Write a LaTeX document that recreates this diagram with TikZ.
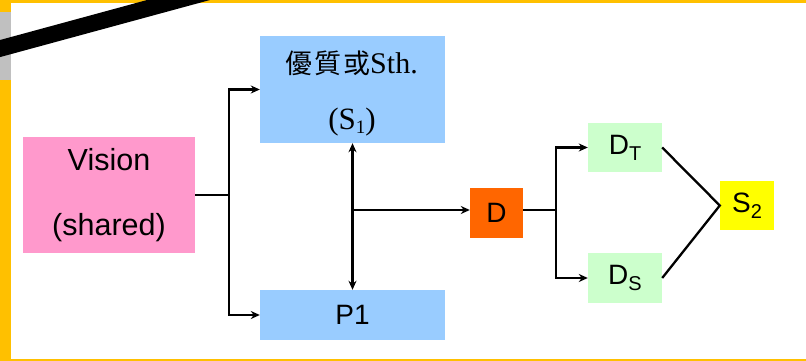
\documentclass[tikz,border=0pt]{standalone}
\usepackage{fontspec}
\setmainfont{Liberation Sans}
\newfontfamily\serifft{Liberation Serif}
\newfontfamily\cjk{Noto Sans CJK TC}
\usetikzlibrary{arrows.meta}
\definecolor{framey}{HTML}{FFC000}
\definecolor{framegray}{HTML}{C0C0C0}
\definecolor{pinkbox}{HTML}{FF99CC}
\definecolor{bluebox}{HTML}{99CCFF}
\definecolor{orangebox}{HTML}{FF6600}
\definecolor{greenbox}{HTML}{CCFFCC}
\definecolor{yellowbox}{HTML}{FFFF00}
\begin{document}
\begin{tikzpicture}[x=1pt,y=-1pt,
  box/.style={inner sep=0pt, minimum width=#1},
  lbl/.style={font=\fontsize{28}{30}\selectfont},
  conn/.style={line width=2.3pt, black},
  arr/.style={conn, -{Stealth[length=9pt,width=8pt]}},
  darr/.style={conn, {Stealth[length=9pt,width=8pt]}-{Stealth[length=9pt,width=8pt]}}]
\useasboundingbox (0,0) rectangle (806,361);
\clip (0,0) rectangle (806,361);
% frame
\fill[white] (0,0) rectangle (806,361);
\fill[framey] (0,0) rectangle (806,3);
\fill[framey] (0,0) rectangle (11,361);
\fill[framegray] (0,12) rectangle (11,80);
\fill[framey] (0,359.3) rectangle (806,361);
\draw[line width=16.5pt, black] (-20,54) -- (230,-14);
% boxes
\node[box=172pt, minimum height=116pt, fill=pinkbox, align=center,
      font=\fontsize{30.5}{65}\selectfont] (vision) at (109,195) {Vision\\(shared)};
\node[box=185pt, minimum height=107pt, fill=bluebox] (s1) at (352.5,89.5) {};
\node[font=\fontsize{30}{30}\selectfont] (s1a) at (351.5,63)
  {{\cjk\fontsize{27}{27}\selectfont 優\hspace{2pt}質\hspace{2pt}或}\serifft Sth.};
\node[font=\fontsize{31}{31}\selectfont\serifft] (s1b) at (352,122)
  {(S\raisebox{-4pt}{\fontsize{19}{19}\selectfont 1})};
\node[box=185pt, minimum height=50pt, fill=bluebox, lbl] (p1) at (352.5,315) {P1};
\node[box=53pt, minimum height=50pt, fill=orangebox, lbl] (d) at (496.5,213) {D};
\node[box=74pt, minimum height=49pt, fill=greenbox, lbl] (dt) at (625,147.5)
  {D\raisebox{-6pt}{\fontsize{20}{20}\selectfont T}};
\node[box=74pt, minimum height=50pt, fill=greenbox, lbl] (ds) at (625,278)
  {D\raisebox{-6pt}{\fontsize{20}{20}\selectfont S}};
\node[box=54pt, minimum height=49pt, fill=yellowbox, lbl] (s2) at (747,205.5)
  {S\raisebox{-6pt}{\fontsize{20}{20}\selectfont 2}};
% connectors
\coordinate (j1) at (229,195);
\coordinate (j2) at (352.5,210);
\coordinate (j3) at (556,210);
\draw[conn] (vision.east) -- (j1);
\draw[arr] (j1) |- (s1.west);
\draw[arr] (j1) |- (p1.west);
\draw[darr] (s1.south) -- (p1.north);
\draw[arr] (j2) -- (j2 -| d.west);
\draw[conn] (d.east |- j3) -- (j3);
\draw[arr] (j3) |- (dt.west);
\draw[arr] (j3) |- (ds.west);
\draw[conn] (dt.east) -- (s2.west) -- (ds.east);
\end{tikzpicture}
\end{document}
